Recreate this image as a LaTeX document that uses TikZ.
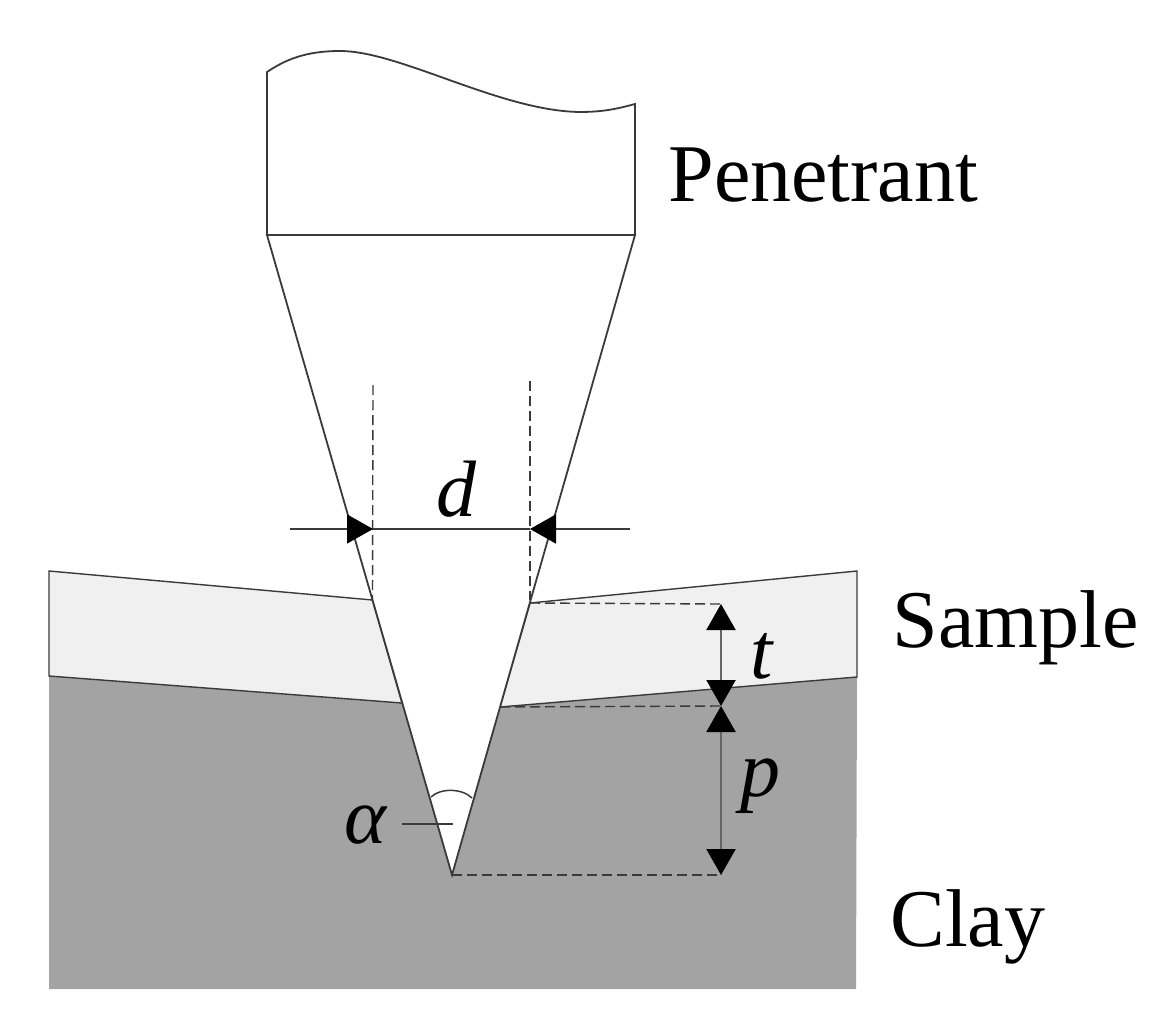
\documentclass[tikz,border=0pt]{standalone}
\usepackage{fontspec}
\setmainfont{Liberation Serif}
\usetikzlibrary{arrows.meta}
\definecolor{claygray}{HTML}{A3A3A3}
\definecolor{samplegray}{HTML}{F0F0F0}
\definecolor{inkgray}{HTML}{3A3A3A}
\tikzset{
  outline/.style={draw=inkgray,line width=0.9pt},
  hairline/.style={draw=inkgray,line width=0.75pt},
  dashline/.style={draw=inkgray,line width=0.7pt,dash pattern=on 5pt off 2.5pt},
  dimline/.style={draw=black!60,line width=1.1pt,{Triangle[length=13pt,width=14.5pt,black]}-{Triangle[length=13pt,width=14.5pt,black]}},
  dimarrow/.style={draw=inkgray,line width=0.85pt,-{Triangle[length=13pt,width=14.5pt,black]}},
  word/.style={inner sep=0pt,font=\fontsize{41}{48}\selectfont},
  symb/.style={inner sep=0pt,font=\fontsize{40}{48}\selectfont\itshape}
}
\begin{document}
\begin{tikzpicture}[x=0.5pt,y=-0.5pt]
\useasboundingbox (0,0) rectangle (1176,1032);
% key points
\coordinate (tip) at (452,875);
\coordinate (shl) at (267,235);
\coordinate (shr) at (635,235);
\coordinate (sul) at (372.5,600);
\coordinate (sur) at (530,603);
\coordinate (sll) at (402,703);
\coordinate (slr) at (500,707);
\coordinate (ctl) at (49,676);
\coordinate (ctr) at (857,677);
% clay
\fill[claygray] (ctl) -- (sll) -- (tip) -- (slr) -- (ctr) -- (856,989) -- (49,989) -- cycle;
% sample
\filldraw[fill=samplegray,outline,line width=0.7pt] (ctl) -- (49,571) -- (sul) -- (sll) -- cycle;
\filldraw[fill=samplegray,outline,line width=0.7pt] (ctr) -- (857,571) -- (sur) -- (slr) -- cycle;
% penetrant
\draw[outline,fill=white] (shl) -- (tip) -- (shr) -- cycle;
\draw[outline,fill=white] (shl) -- (267,72) .. controls (285,60) and (305,51) .. (340,51)
  .. controls (400,51) and (500,111) .. (580,112) .. controls (605,112) and (620,108) .. (635,104) -- (shr) -- cycle;
% angle mark
\draw[hairline] (431,797) .. controls (440,788) and (462,788) .. (472,798);
\coordinate (al) at (402,824);
\coordinate (ar) at (453,824);
\draw[hairline] (al) -- (ar);
% d dimension
\coordinate (dl0) at (290,529);
\coordinate (dl1) at (373,529);
\coordinate (dr0) at (630,529);
\coordinate (dr1) at (530,529);
\draw[dashline] (373,385) -- (sul);
\draw[dashline] (530,381) -- (530,600);
\draw[hairline,line width=0.85pt] (dl1) -- (dr1);
\draw[dimarrow] (dl0) -- (dl1);
\draw[dimarrow] (dr0) -- (dr1);
% t and p dimensions
\coordinate (m1) at (721,604);
\coordinate (m2) at (721,706);
\coordinate (m3) at (721,875);
\draw[dashline] (sur) -- (m1);
\draw[dashline] (slr) -- (m2);
\draw[dashline] (tip) -- (m3);
\draw[dimline] (m1) -- (m2);
\draw[dimline] (m2) -- (m3);
% labels
\node[word,anchor=base west] (pen) at (668,201) {Penetrant};
\node[word,anchor=base west] (sam) at (892,647) {Sample};
\node[word,anchor=base west] (cla) at (890,946) {Clay};
\node[symb,anchor=base] (dlab) at (456,516) {d};
\node[symb,anchor=base] (tlab) at (762,678) {t};
\node[symb,anchor=base] (plab) at (760,796) {p};
\node[symb,anchor=base] (alab) at (365,843) {α};
\end{tikzpicture}
\end{document}
